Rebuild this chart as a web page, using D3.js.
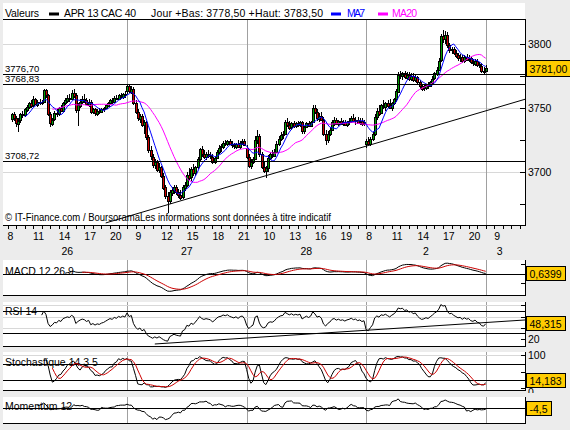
<!DOCTYPE html>
<html><head><meta charset="utf-8">
<script src="https://cdn.jsdelivr.net/npm/d3@7"></script>
<style>
body{margin:0;background:#ececec;}
svg{display:block;font-family:"Liberation Sans",Arial,sans-serif;}
</style></head><body>
<svg id="c" width="570" height="430"></svg>
<script>
// ---------- DATA (15-minute candles, [open, high, low, close]) ----------
const day26 = [
[3741,3746,3739,3745],[3745,3747,3740,3742],[3742,3744,3735,3738],[3738,3742,3731,3740],[3740,3746,3738,3745],
[3745,3748,3742,3744],[3744,3750,3743,3749],[3749,3752,3747,3751],[3751,3755,3749,3754],[3754,3756,3750,3752],
[3752,3759,3751,3757],[3757,3758,3752,3753],[3753,3756,3751,3755],[3755,3757,3752,3754],[3754,3756,3752,3755],
[3755,3765,3754,3764],[3764,3765,3758,3760],[3760,3761,3744,3745],[3745,3747,3735,3738],[3738,3742,3736,3741],
[3741,3748,3740,3746],[3746,3749,3743,3745],[3745,3751,3744,3750],[3750,3752,3747,3748],[3748,3755,3747,3754],
[3754,3758,3752,3756],[3756,3760,3754,3758],[3758,3761,3755,3757],[3757,3764,3756,3762],[3762,3765,3758,3760],
[3760,3762,3746,3748],[3748,3754,3736,3752],[3752,3757,3750,3755],[3755,3759,3753,3757],[3757,3761,3754,3756],
[3756,3758,3752,3753],[3753,3757,3751,3755],[3755,3756,3745,3747],[3747,3750,3745,3749],[3749,3750,3744,3746],
[3746,3749,3744,3748],[3748,3750,3745,3747],[3747,3750,3746,3749],[3749,3751,3747,3750],[3750,3753,3749,3752],
[3752,3755,3751,3754],[3754,3757,3752,3756],[3756,3758,3753,3755],[3755,3759,3754,3758],[3758,3760,3756,3757],
[3757,3761,3756,3760],[3760,3762,3757,3759],[3759,3762,3757,3761],[3761,3763,3758,3760]
];
const day27 = [
[3763,3769,3761,3767],[3767,3768,3762,3763],[3763,3767,3761,3765],[3765,3766,3752,3754],[3754,3756,3745,3747],
[3747,3749,3740,3742],[3742,3745,3738,3744],[3744,3745,3735,3737],[3737,3741,3730,3739],[3739,3740,3725,3727],
[3727,3729,3715,3717],[3717,3720,3709,3712],[3712,3714,3703,3706],[3706,3710,3702,3708],[3708,3709,3700,3702],
[3702,3707,3699,3704],[3704,3705,3695,3697],[3697,3699,3686,3688],[3688,3690,3679,3681],[3681,3684,3668,3677],
[3677,3686,3675,3684],[3684,3688,3681,3686],[3686,3690,3683,3688],[3688,3690,3682,3684],[3684,3687,3680,3682],
[3682,3686,3678,3680],[3680,3690,3679,3688],[3688,3692,3685,3690],[3690,3700,3688,3698],[3698,3703,3694,3696],
[3696,3704,3693,3702],[3702,3706,3697,3699],[3699,3705,3697,3704],[3704,3712,3702,3710],[3710,3719,3708,3718],
[3718,3720,3712,3714],[3714,3717,3710,3712],[3712,3716,3709,3714],[3714,3717,3711,3713],[3713,3716,3710,3712],
[3712,3714,3706,3708],[3708,3712,3706,3711],[3711,3717,3710,3716],[3716,3721,3714,3719],[3719,3722,3716,3720],
[3720,3724,3718,3723],[3723,3725,3720,3722],[3722,3725,3720,3724],[3724,3726,3721,3722],[3722,3724,3719,3721],
[3721,3723,3718,3720],[3720,3723,3718,3722],[3722,3725,3719,3720],[3720,3724,3718,3723],[3723,3726,3721,3724],
[3724,3726,3720,3721]
];
const day28 = [
[3719,3721,3710,3712],[3712,3714,3703,3705],[3705,3710,3702,3708],[3708,3712,3706,3710],[3710,3728,3709,3725],
[3725,3733,3722,3728],[3728,3730,3712,3714],[3714,3716,3702,3704],[3704,3708,3699,3701],[3701,3705,3695,3703],
[3703,3713,3700,3711],[3711,3716,3709,3714],[3714,3717,3711,3713],[3713,3718,3712,3716],[3716,3724,3715,3722],
[3722,3728,3720,3726],[3726,3731,3724,3729],[3729,3732,3726,3730],[3730,3741,3729,3739],[3739,3742,3735,3737],
[3737,3740,3733,3735],[3735,3739,3733,3738],[3738,3740,3734,3736],[3736,3739,3734,3738],[3738,3740,3735,3737],
[3737,3740,3735,3739],[3739,3740,3730,3732],[3732,3736,3730,3735],[3735,3739,3734,3738],[3738,3740,3735,3736],
[3736,3740,3735,3739],[3739,3752,3738,3750],[3750,3752,3745,3747],[3747,3749,3740,3742],[3742,3746,3739,3744],
[3744,3747,3740,3741],[3741,3743,3728,3730],[3730,3733,3721,3725],[3725,3732,3723,3730],[3730,3735,3728,3733],
[3733,3741,3732,3739],[3739,3743,3736,3741],[3741,3742,3737,3738],[3738,3741,3736,3740],[3740,3742,3737,3738],
[3738,3741,3736,3739],[3739,3741,3736,3737],[3737,3740,3735,3739],[3739,3742,3737,3740],[3740,3744,3738,3742],
[3742,3745,3739,3740],[3740,3743,3737,3741],[3741,3743,3738,3739],[3739,3742,3737,3740],[3740,3742,3736,3738],
[3738,3741,3736,3739]
];
const day2 = [
[3722,3726,3719,3724],[3724,3727,3721,3722],[3722,3727,3720,3726],[3726,3731,3724,3730],[3730,3745,3728,3743],
[3743,3750,3741,3748],[3748,3752,3744,3746],[3746,3753,3745,3752],[3752,3756,3749,3751],[3751,3755,3748,3754],
[3754,3756,3750,3752],[3752,3757,3749,3750],[3750,3755,3748,3754],[3754,3758,3752,3757],[3757,3765,3755,3763],
[3763,3778,3762,3776],[3776,3779,3773,3775],[3775,3778,3772,3777],[3777,3779,3773,3774],[3774,3778,3772,3776],
[3776,3778,3771,3773],[3773,3777,3771,3775],[3775,3777,3770,3772],[3772,3776,3770,3774],[3774,3775,3768,3770],
[3770,3772,3765,3767],[3767,3769,3763,3765],[3765,3768,3763,3766],[3766,3769,3764,3768],[3768,3770,3765,3767],
[3767,3771,3766,3770],[3770,3775,3768,3773],[3773,3778,3772,3777],[3777,3782,3775,3780],[3780,3789,3779,3787],
[3787,3808,3786,3806],[3806,3811,3801,3804],[3804,3810,3800,3807],[3807,3809,3797,3799],[3799,3801,3793,3795],
[3795,3798,3792,3796],[3796,3798,3791,3793],[3793,3795,3789,3791],[3791,3793,3787,3789],[3789,3792,3786,3790],
[3790,3791,3785,3787],[3787,3791,3785,3790],[3790,3792,3787,3788],[3788,3791,3786,3789],[3789,3790,3784,3786],
[3786,3788,3783,3785],[3785,3788,3783,3787],[3787,3788,3782,3784],[3784,3786,3781,3783],[3783,3785,3777,3779],
[3779,3782,3776,3778]
];
const day3 = [[3779,3783.5,3778.5,3781]];

const dayNames = ["26","27","28","2","3"];
const dayStart = [2, 56, 112, 168, 224];      // candle slot of each day's first bar
const daySeparators = [56, 112, 168, 224];
const dayLabelSlot = [28, 84, 140, 196, 230.5];
const hourLabels = ["8","11","14","17","20","9","12","15","18","21","10","13","16","19","8","11","14","17","20","9"];
const hourSlots  = [0,12,24,36,48,60,72,84,96,108,120,132,144,156,168,180,192,204,216,228];
const levels = [3776.70, 3768.83, 3708.72];
const levelLabels = ["3776,70","3768,83","3708,72"];
const priceTicks = [3675,3700,3725,3750,3775,3800];
const priceLabels = [3700,3750,3800];
const trendLine = [[46, 3660.2],[242.4, 3756.8]];
const rsiTrendLine = [[69, 10.8],[242.4, 53.8]];
const lastValues = {price:"3781,00", macd:"0,6399", rsi:"48,315", sto:"14,183", mom:"-4,5"};
const lastNums = {price:3781.00, macd:0.6399, rsi:48.315, sto:14.183, mom:-4.5};

// ---------- BUILD ----------
const candles = [];
[day26, day27, day28, day2, day3].forEach((arr, d) =>
  arr.forEach((q, k) => candles.push({i: dayStart[d] + k, o:q[0], h:q[1], l:q[2], c:q[3]})));
const closes = candles.map(d => d.c);

function smaN(vals, n){
  return vals.map((v,k) => {
    if (k < n-1) return null;
    const w = vals.slice(k-n+1, k+1);
    return w.some(z => z == null) ? null : d3.mean(w);
  });
}
function ema(vals, n){
  const out = vals.map(() => null), a = 2/(n+1);
  const f = vals.findIndex(v => v != null);
  const s = f + n - 1;
  if (f < 0 || s >= vals.length) return out;
  let p = d3.mean(vals.slice(f, s+1)); out[s] = p;
  for (let k = s+1; k < vals.length; k++){ p = a*vals[k] + (1-a)*p; out[k] = p; }
  return out;
}
function rsiCalc(vals, n){
  const out = vals.map(() => null);
  let g = 0, l = 0;
  for (let k = 1; k <= n; k++){ const d = vals[k]-vals[k-1]; if (d > 0) g += d; else l -= d; }
  g /= n; l /= n; out[n] = l === 0 ? 100 : 100 - 100/(1+g/l);
  for (let k = n+1; k < vals.length; k++){
    const d = vals[k]-vals[k-1];
    g = (g*(n-1) + Math.max(d,0))/n; l = (l*(n-1) + Math.max(-d,0))/n;
    out[k] = l === 0 ? 100 : 100 - 100/(1+g/l);
  }
  return out;
}
const ma7 = smaN(closes, 7), ma20 = smaN(closes, 20);
const e12 = ema(closes, 12), e26 = ema(closes, 26);
const macd = closes.map((_,k) => (e12[k]==null||e26[k]==null) ? null : e12[k]-e26[k]);
const signal = ema(macd, 9);
const rsi = rsiCalc(closes, 14);
const rawK = candles.map((c,k) => {
  if (k < 13) return null;
  const w = candles.slice(k-13, k+1);
  const hh = d3.max(w, d => d.h), ll = d3.min(w, d => d.l);
  return hh === ll ? 50 : (c.c-ll)/(hh-ll)*100;
});
const stoK = smaN(rawK, 3), stoD = smaN(stoK, 5);
const mom = closes.map((v,k) => k < 12 ? null : v - closes[k-12]);
const ser = arr => candles.map((c,k) => ({i:c.i, v:arr[k]})).filter(d => d.v != null);

// ---------- DRAW ----------
const svg = d3.select("#c");
const L = 3, R = 525;
const x = d3.scaleLinear().domain([0, 242.4]).range([7.5, 525]);
const yP = d3.scaleLinear().domain([3658.6, 3819.5]).range([225, 19]);
const panels = {
  macd:{top:260, bot:295, s:d3.scaleLinear().domain([-22.1,14.7]).range([295,260])},
  rsi: {top:302, bot:346, s:d3.scaleLinear().domain([7.2,86]).range([346,302])},
  sto: {top:352, bot:390, s:d3.scaleLinear().domain([-5.1,109.9]).range([390,352])},
  mom: {top:397, bot:423, s:d3.scaleLinear().domain([-81,55.8]).range([423,397])}
};
const defs = svg.append("defs");
function clip(id, y0, y1){
  defs.append("clipPath").attr("id", id).append("rect").attr("x", L).attr("y", y0).attr("width", R-L).attr("height", y1-y0);
  return "url(#" + id + ")";
}
svg.append("rect").attr("width",570).attr("height",430).attr("fill","#ececec");
svg.append("rect").attr("x",L).attr("y",3).attr("width",R-L).attr("height",222).attr("fill","#fff");
Object.values(panels).forEach(p => svg.append("rect").attr("x",L).attr("y",p.top).attr("width",R-L).attr("height",p.bot-p.top).attr("fill","#fff"));

const crisp = svg.append("g").attr("shape-rendering","crispEdges");
crisp.selectAll(".pg").data(priceLabels).join("line")
  .attr("x1",L).attr("x2",R).attr("y1",d=>Math.round(yP(d))+0.5).attr("y2",d=>Math.round(yP(d))+0.5)
  .attr("stroke","#d8d8d8");
const sepPanels = [[19,225]].concat(Object.values(panels).map(p=>[p.top,p.bot]));
sepPanels.forEach(([t,b]) => crisp.append("g").selectAll("line").data(daySeparators).join("line")
  .attr("x1",d=>Math.round(x(d))+0.5).attr("x2",d=>Math.round(x(d))+0.5).attr("y1",t).attr("y2",b)
  .attr("stroke","#a0a0a0"));
[80,60,40].forEach(v => crisp.append("line").attr("x1",L).attr("x2",R)
  .attr("y1",Math.round(panels.rsi.s(v))+0.5).attr("y2",Math.round(panels.rsi.s(v))+0.5).attr("stroke","#d8d8d8"));
crisp.append("line").attr("x1",L).attr("x2",R)
  .attr("y1",Math.round(panels.sto.s(100))+0.5).attr("y2",Math.round(panels.sto.s(100))+0.5).attr("stroke","#d8d8d8");

// candles
const cg = svg.append("g").attr("shape-rendering","crispEdges").attr("clip-path", clip("cm",19,225));
cg.selectAll("line").data(candles).join("line")
  .attr("x1",d=>Math.round(x(d.i))+0.5).attr("x2",d=>Math.round(x(d.i))+0.5)
  .attr("y1",d=>yP(d.h)).attr("y2",d=>yP(d.l)).attr("stroke","#000");
cg.selectAll("rect").data(candles).join("rect")
  .attr("x",d=>Math.round(x(d.i))-0.5).attr("width",2)
  .attr("y",d=>Math.round(yP(Math.max(d.o,d.c)))+0.5)
  .attr("height",d=>Math.max(1, Math.round(Math.abs(yP(d.o)-yP(d.c)))))
  .attr("fill",d=>d.c>=d.o?"#00a000":"#cc0000").attr("stroke","#000");

// moving averages
const lineP = d3.line().x(d=>x(d.i)).y(d=>yP(d.v));
svg.append("path").datum(ser(ma20)).attr("d",lineP).attr("fill","none").attr("stroke","#ff00ff").attr("stroke-width",1);
svg.append("path").datum(ser(ma7)).attr("d",lineP).attr("fill","none").attr("stroke","#0000ff").attr("stroke-width",1);

// level lines + trendline
const lv = svg.append("g").attr("shape-rendering","crispEdges");
lv.selectAll("line").data(levels).join("line").attr("x1",L).attr("x2",R)
  .attr("y1",d=>Math.round(yP(d))+0.5).attr("y2",d=>Math.round(yP(d))+0.5).attr("stroke","#000");
lv.append("line").attr("x1",L).attr("x2",R).attr("y1",19.5).attr("y2",19.5).attr("stroke","#000");
svg.append("path").datum(trendLine).attr("clip-path", clip("ct",19,225))
  .attr("d", d3.line().x(d=>x(d[0])).y(d=>yP(d[1]))).attr("fill","none").attr("stroke","#000");
svg.selectAll(".lvt").data(levels).join("text").attr("x",5).attr("y",d=>yP(d)-2)
  .attr("font-size",9.5).attr("fill","#000").text((d,k)=>levelLabels[k]);
svg.append("text").attr("x",5).attr("y",221).attr("font-size",10).attr("fill","#000")
  .attr("textLength",326).attr("lengthAdjust","spacingAndGlyphs")
  .text("© IT-Finance.com / BoursoramaLes informations sont données à titre indicatif");

// header
const hdr = [["Valeurs",5,34,"#000"],["APR 13 CAC 40",64,72,"#000"],["Jour +Bas: 3778,50 +Haut: 3783,50",151,172,"#000"],
  ["MA7",347,18,"#0000ff"],["MA20",392,25,"#ff00ff"]];
svg.selectAll(".hd").data(hdr).join("text").attr("x",d=>d[1]).attr("y",17).attr("font-size",10.5)
  .attr("textLength",d=>d[2]).attr("lengthAdjust","spacing")
  .attr("fill",d=>d[3]).text(d=>d[0]);
[[49,"#000"],[331,"#0000ff"],[378,"#ff00ff"]].forEach(([sx,col]) =>
  svg.append("rect").attr("x",sx).attr("y",12.5).attr("width",10).attr("height",3).attr("fill",col));

// axes: main
const ax = svg.append("g").attr("shape-rendering","crispEdges");
ax.append("line").attr("x1",L).attr("x2",R).attr("y1",225.5).attr("y2",225.5).attr("stroke","#000");
ax.append("line").attr("x1",R+0.5).attr("x2",R+0.5).attr("y1",19).attr("y2",226).attr("stroke","#000");
ax.selectAll(".yt").data(priceTicks).join("line").attr("x1",R-5).attr("x2",R)
  .attr("y1",d=>Math.round(yP(d))+0.5).attr("y2",d=>Math.round(yP(d))+0.5).attr("stroke","#000");
svg.selectAll(".yl").data(priceLabels).join("text").attr("x",528).attr("y",d=>yP(d)+4)
  .attr("font-size",10.5).attr("fill","#000").text(d=>d);
ax.selectAll(".xt").data(d3.range(0, 241, 4)).join("line")
  .attr("x1",d=>Math.round(x(d))+0.5).attr("x2",d=>Math.round(x(d))+0.5).attr("y1",226).attr("y2",229).attr("stroke","#000");
svg.selectAll(".xl").data(hourSlots).join("text").attr("x",d=>x(d)).attr("y",240)
  .attr("font-size",10.5).attr("fill","#000").text((d,k)=>hourLabels[k]);
svg.selectAll(".dl").data(dayLabelSlot).join("text").attr("x",d=>x(d)).attr("y",255)
  .attr("text-anchor","middle").attr("font-size",10.5).attr("fill","#000").text((d,k)=>dayNames[k]);

// indicator panels
function panelLines(p, id, series, refs){
  const g = svg.append("g").attr("clip-path", clip(id, p.top, p.bot));
  const lg = g.append("g").attr("shape-rendering","crispEdges");
  refs.forEach(v => lg.append("line").attr("x1",L).attr("x2",R)
    .attr("y1",Math.round(p.s(v))+0.5).attr("y2",Math.round(p.s(v))+0.5).attr("stroke","#000"));
  const ln = d3.line().x(d=>x(d.i)).y(d=>p.s(d.v));
  series.forEach(([data,col]) => g.append("path").datum(data).attr("d",ln).attr("fill","none").attr("stroke",col).attr("stroke-width",1));
  return g;
}
function panelFrame(p, ticks){
  const g = svg.append("g").attr("shape-rendering","crispEdges");
  g.append("line").attr("x1",L).attr("x2",R).attr("y1",p.bot+0.5).attr("y2",p.bot+0.5).attr("stroke","#000");
  g.append("line").attr("x1",R+0.5).attr("x2",R+0.5).attr("y1",p.top).attr("y2",p.bot+1).attr("stroke","#000");
  g.selectAll(".t").data(ticks).join("line").attr("x1",R-4).attr("x2",R)
    .attr("y1",d=>Math.round(p.s(d))+0.5).attr("y2",d=>Math.round(p.s(d))+0.5).attr("stroke","#000");
}
const pm = panels.macd, pr = panels.rsi, ps = panels.sto, po = panels.mom;
svg.append("text").attr("x",5).attr("y",pm.top+15).attr("font-size",10.5).text("MACD 12 26 9");
svg.append("text").attr("x",5).attr("y",pr.top+13).attr("font-size",10.5).text("RSI 14");
svg.append("text").attr("x",5).attr("y",ps.top+14).attr("font-size",10.5).text("Stochastique 14 3 5");
svg.append("text").attr("x",5).attr("y",po.top+13).attr("font-size",10.5).text("Momentum 12");

panelLines(pm, "c1", [[ser(macd),"#000"],[ser(signal),"#cc0000"]], [0]);
const rg = panelLines(pr, "c2", [[ser(rsi),"#000"]], [70,30]);
rg.append("path").datum(rsiTrendLine).attr("d", d3.line().x(d=>x(d[0])).y(d=>pr.s(d[1])))
  .attr("fill","none").attr("stroke","#000").attr("stroke-width",1);
panelLines(ps, "c3", [[ser(stoK),"#000"],[ser(stoD),"#cc0000"]], [75,25]);
panelLines(po, "c4", [[ser(mom),"#000"]], [0]);
panelFrame(pm, [-10,10]);
panelFrame(pr, [20,40,60,80]);
panelFrame(ps, [0,50,100]);
panelFrame(po, []);
svg.append("text").attr("x",528).attr("y",pr.s(20)+4).attr("font-size",10.5).text("20");
svg.append("text").attr("x",528).attr("y",ps.s(100)+4).attr("font-size",10.5).text("100");
defs.append("clipPath").attr("id","c0l").append("rect").attr("x",526).attr("y",388).attr("width",44).attr("height",5);
svg.append("text").attr("x",528).attr("y",ps.s(0)+8).attr("font-size",10.5).attr("clip-path","url(#c0l)").text("0");

// value boxes
function valueBox(txt, yc, top, bot, h){
  let y0 = yc - h/2;
  y0 = Math.max(top, Math.min(y0, bot - h - 3));
  const g = svg.append("g");
  const r = g.append("rect").attr("x",526.5).attr("y",Math.round(y0)+0.5).attr("height",h)
    .attr("fill","#ffcc00").attr("stroke","#000").attr("shape-rendering","crispEdges");
  const t = g.append("text").attr("x",529.5).attr("y",Math.round(y0)+h/2+4.5).attr("font-size",10.5).text(txt);
  r.attr("width", Math.ceil(t.node().getComputedTextLength()) + 6);
}
valueBox(lastValues.price, yP(lastNums.price), 19, 225, 16);
valueBox(lastValues.macd, pm.s(lastNums.macd), pm.top, pm.bot, 14);
valueBox(lastValues.rsi, pr.s(lastNums.rsi), pr.top, pr.bot, 14);
valueBox(lastValues.sto, ps.s(lastNums.sto), ps.top, ps.bot, 14);
valueBox(lastValues.mom, po.s(lastNums.mom), po.top, po.bot, 14);
</script>
</body></html>
